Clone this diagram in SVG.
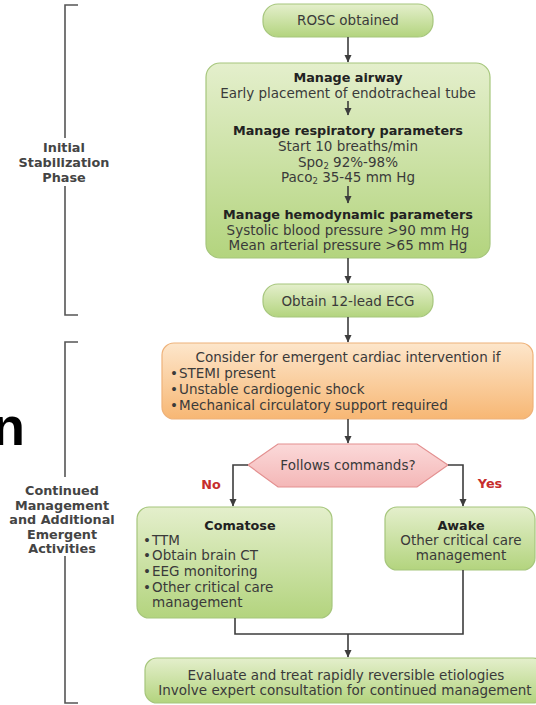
<svg xmlns="http://www.w3.org/2000/svg" width="536" height="705" viewBox="0 0 536 705">
<defs>
  <linearGradient id="gGreen" x1="0" y1="0" x2="0" y2="1">
    <stop offset="0" stop-color="#e4efcc"/>
    <stop offset="1" stop-color="#b3d47e"/>
  </linearGradient>
  <linearGradient id="gOrange" x1="0" y1="0" x2="0" y2="1">
    <stop offset="0" stop-color="#fde6cb"/>
    <stop offset="1" stop-color="#f7b774"/>
  </linearGradient>
  <linearGradient id="gPink" x1="0" y1="0" x2="0" y2="1">
    <stop offset="0" stop-color="#fbd9d9"/>
    <stop offset="1" stop-color="#f4b7b7"/>
  </linearGradient>
  <marker id="arr" markerWidth="8" markerHeight="8" refX="7" refY="4" orient="auto" markerUnits="userSpaceOnUse">
    <path d="M0,0.5 L7.5,4 L0,7.5 Z" fill="#3d3d3d"/>
  </marker>
</defs>
<style>
  text { font-family: "DejaVu Sans", "Liberation Sans", sans-serif; font-size: 13.5px; fill: #3a3a3a; }
  .c { text-anchor: middle; }
  .b { font-weight: bold; fill: #222; font-size: 12.8px; }
  .br { font-weight: bold; font-size: 12.8px; fill: #444; text-anchor: middle; }
  .red { font-weight: bold; fill: #c62d2d; font-size: 12.8px; text-anchor: middle; }
  .sub { font-size: 8.5px; }
  .green { fill: url(#gGreen); stroke: #a6c67c; stroke-width: 1.2; }
  .orange { fill: url(#gOrange); stroke: #eeb27a; stroke-width: 1.2; }
  .pink { fill: url(#gPink); stroke: #e39090; stroke-width: 1.2; }
  .line { fill: none; stroke: #3d3d3d; stroke-width: 1.6; }
  .brk { fill: none; stroke: #555; stroke-width: 1.6; }
</style>

<g id="bracket-initial">
  <path class="brk" d="M78,5 H65 V138 M65,186 V315 H78"/>
  <text class="br" x="64" y="152">Initial</text>
  <text class="br" x="64" y="167">Stabilization</text>
  <text class="br" x="64" y="182">Phase</text>
</g>

<g id="bracket-continued">
  <path class="brk" d="M78,342 H65 V477 M65,556 V703 H78"/>
  <text class="br" x="62" y="495">Continued</text>
  <text class="br" x="62" y="510">Management</text>
  <text class="br" x="62" y="524">and Additional</text>
  <text class="br" x="62" y="539">Emergent</text>
  <text class="br" x="62" y="553">Activities</text>
</g>

<g id="stray-n">
  <text x="25" y="445" style="font-family:'Liberation Sans',Arial,sans-serif;font-size:54px;font-weight:bold;fill:#000;text-anchor:end">n</text>
</g>

<g id="rosc">
  <rect class="green" x="263" y="4" width="170" height="33" rx="15"/>
  <text class="c" x="348" y="25">ROSC obtained</text>
</g>

<g id="stabilize">
  <rect class="green" x="206" y="63" width="284" height="195" rx="14"/>
  <text class="c b" x="348" y="82">Manage airway</text>
  <text class="c" x="348" y="98">Early placement of endotracheal tube</text>
  <line class="line" x1="348" y1="101" x2="348" y2="115" marker-end="url(#arr)"/>
  <text class="c b" x="348" y="135">Manage respiratory parameters</text>
  <text class="c" x="348" y="151">Start 10 breaths/min</text>
  <text class="c" x="348" y="167">Spo<tspan class="sub" dy="2">2</tspan><tspan dy="-2"> 92%-98%</tspan></text>
  <text class="c" x="348" y="182">Paco<tspan class="sub" dy="2">2</tspan><tspan dy="-2"> 35-45 mm Hg</tspan></text>
  <line class="line" x1="348" y1="186" x2="348" y2="203" marker-end="url(#arr)"/>
  <text class="c b" x="348" y="219">Manage hemodynamic parameters</text>
  <text class="c" x="348" y="235">Systolic blood pressure &gt;90 mm Hg</text>
  <text class="c" x="348" y="250">Mean arterial pressure &gt;65 mm Hg</text>
</g>

<g id="ecg">
  <rect class="green" x="263" y="284" width="170" height="33" rx="15"/>
  <text class="c" x="348" y="306">Obtain 12-lead ECG</text>
</g>

<g id="cardiac">
  <rect class="orange" x="162" y="343" width="371" height="76" rx="12"/>
  <text class="c" x="348" y="362">Consider for emergent cardiac intervention if</text>
  <text x="170" y="378">•</text><text x="179" y="378">STEMI present</text>
  <text x="170" y="394">•</text><text x="179" y="394">Unstable cardiogenic shock</text>
  <text x="170" y="410">•</text><text x="179" y="410">Mechanical circulatory support required</text>
</g>

<g id="decision">
  <polygon class="pink" points="248,465 278,444 417,444 448,465 417,487 278,487"/>
  <text class="c" x="348" y="470">Follows commands?</text>
</g>

<g id="comatose">
  <rect class="green" x="137" y="507" width="195" height="111" rx="12"/>
  <text class="c b" x="240" y="530">Comatose</text>
  <text x="143" y="545">•</text><text x="152" y="545">TTM</text>
  <text x="143" y="560">•</text><text x="152" y="560">Obtain brain CT</text>
  <text x="143" y="576">•</text><text x="152" y="576">EEG monitoring</text>
  <text x="143" y="592">•</text><text x="152" y="592">Other critical care</text>
  <text x="152" y="607">management</text>
</g>

<g id="awake">
  <rect class="green" x="385" y="507" width="150" height="63" rx="12"/>
  <text class="c b" x="461" y="530">Awake</text>
  <text class="c" x="461" y="545">Other critical care</text>
  <text class="c" x="461" y="560">management</text>
</g>

<g id="evaluate">
  <rect class="green" x="145" y="658" width="400" height="45" rx="12"/>
  <text class="c" x="346" y="680">Evaluate and treat rapidly reversible etiologies</text>
  <text class="c" x="345" y="695">Involve expert consultation for continued management</text>
</g>

<g id="connectors">
  <line class="line" x1="348" y1="37" x2="348" y2="62" marker-end="url(#arr)"/>
  <line class="line" x1="348" y1="258" x2="348" y2="283" marker-end="url(#arr)"/>
  <line class="line" x1="348" y1="317" x2="348" y2="342" marker-end="url(#arr)"/>
  <line class="line" x1="348" y1="419" x2="348" y2="443" marker-end="url(#arr)"/>
  <polyline class="line" points="248,465 233,465 233,506" marker-end="url(#arr)"/>
  <polyline class="line" points="448,465 463,465 463,506" marker-end="url(#arr)"/>
  <polyline class="line" points="235,618 235,634 463,634 463,570"/>
  <line class="line" x1="348" y1="634" x2="348" y2="657" marker-end="url(#arr)"/>
  <text class="red" x="211" y="489">No</text>
  <text class="red" x="490" y="488">Yes</text>
</g>
</svg>
